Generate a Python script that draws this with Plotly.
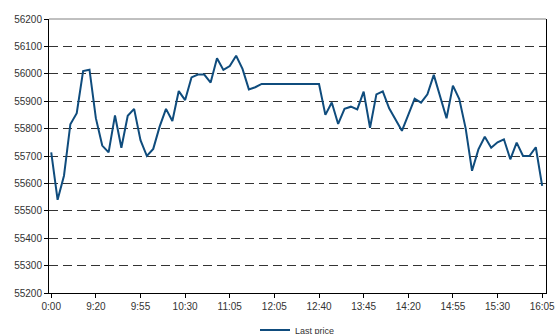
import plotly.graph_objects as go

# Intraday last price, one value per session slot
prices = [
    55713, 55540, 55628, 55816, 55856, 56010, 56015, 55838, 55738, 55713,
    55848, 55730, 55847, 55872, 55758, 55700, 55726, 55807, 55872, 55828,
    55937, 55904, 55987, 55997, 55997, 55968, 56057, 56014, 56028, 56066,
    56018, 55943, 55951,
    55963, 55963, 55963, 55963, 55963, 55963, 55963, 55963, 55963, 55963,
    55850, 55895, 55817, 55872, 55880, 55870, 55935, 55803, 55925, 55936,
    55874, 55834, 55792, 55850, 55909, 55895, 55925, 55996, 55919, 55838,
    55957, 55908, 55801, 55646, 55724, 55770, 55730, 55750, 55761, 55688,
    55749, 55700, 55700, 55732, 55591,
]
slots = list(range(len(prices)))

# Time labels shown every seventh slot
tick_slots = [0, 7, 14, 21, 28, 35, 42, 49, 56, 63, 70, 77]
tick_labels = ["0:00", "9:20", "9:55", "10:30", "11:05", "12:05",
               "12:40", "13:45", "14:20", "14:55", "15:30", "16:05"]

y_ticks = list(range(55200, 56201, 100))

fig = go.Figure()
fig.add_trace(go.Scatter(
    x=slots, y=prices, mode="lines", name="Last price",
    line=dict(color="#0f4c7d", width=2),
))

axis_font = dict(family="Liberation Sans, Arial, sans-serif", size=10, color="#333333")

fig.update_layout(
    width=555, height=334,
    margin=dict(l=49, r=9, t=19, b=41, autoexpand=False),
    paper_bgcolor="white", plot_bgcolor="white",
    font=axis_font,
    showlegend=True,
    legend=dict(orientation="h", x=0.5, xanchor="center", y=-0.135, yanchor="middle",
                font=dict(family="Liberation Sans, Arial, sans-serif", size=9, color="#333333"),
                itemwidth=30),
    xaxis=dict(
        range=[-0.35, 77.6],
        tickmode="array", tickvals=tick_slots, ticktext=tick_labels,
        showgrid=False, zeroline=False,
        showline=True, linecolor="#000000", linewidth=1,
        ticks="outside", ticklen=4, tickcolor="#000000",
        tickfont=axis_font, ticklabeloverflow="allow",
    ),
    yaxis=dict(
        range=[55200, 56200],
        tickmode="array", tickvals=y_ticks, ticktext=[str(v) for v in y_ticks],
        showgrid=True, gridcolor="#333333", gridwidth=1, griddash="9px,5px",
        zeroline=False,
        showline=True, linecolor="#000000", linewidth=1, mirror=True,
        ticks="outside", ticklen=4, tickcolor="#000000",
        tickfont=axis_font,
    ),
    shapes=[
        dict(type="line", xref="paper", yref="paper", x0=0, x1=1, y0=1, y1=1,
             line=dict(color="#808080", width=1)),
    ],
)

fig.write_html("out.html")
